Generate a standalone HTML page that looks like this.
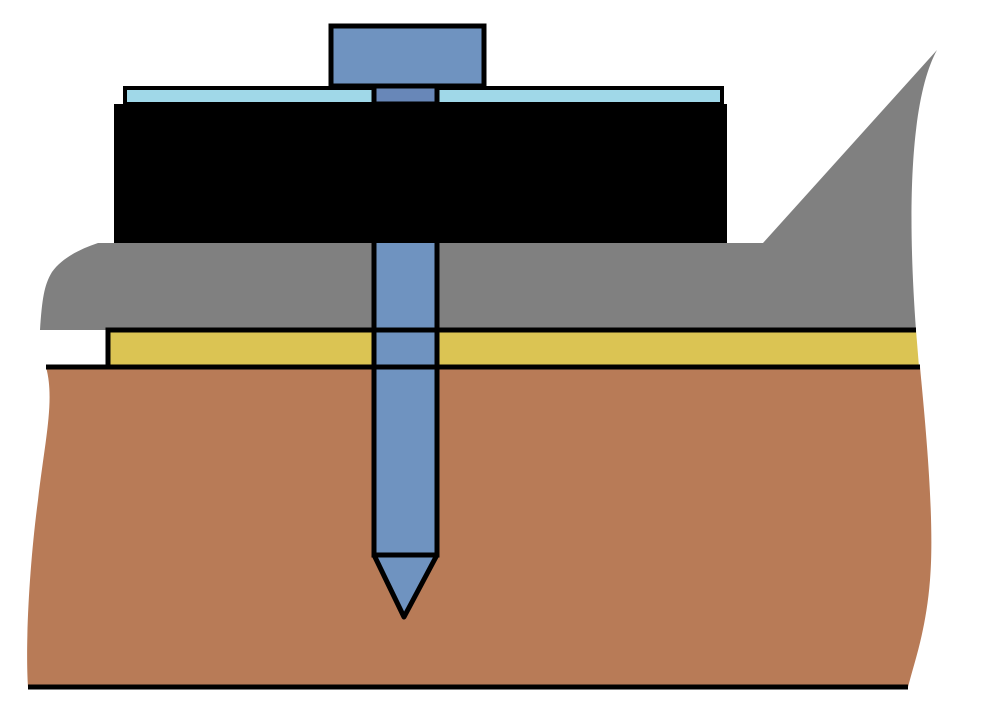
<!DOCTYPE html>
<html><head><meta charset="utf-8"><style>html,body{margin:0;padding:0;background:#fff;}svg{display:block}</style></head>
<body>
<svg width="981" height="710" viewBox="0 0 981 710" xmlns="http://www.w3.org/2000/svg">
<path d="M46,367 L920,367 C925,420 935,520 930,580 C926,630 915,660 908,687 L28,687 C25,640 30,560 38,500 C45,440 55,400 46,367 Z" fill="#b87b57"/>
<line x1="28" y1="687" x2="908" y2="687" stroke="#000" stroke-width="5"/>
<path d="M98,243 L763,243 L937,50 C915,90 905,180 916,330 L40,330 C42,300 44,285 52,272 C62,258 80,249 98,243 Z" fill="#808080"/>
<path d="M108,330 L916,330 L919,367 L108,367 Z" fill="#dbc453"/>
<path d="M108,367 L108,330 L916,330" fill="none" stroke="#000" stroke-width="5"/>
<line x1="46" y1="367" x2="920" y2="367" stroke="#000" stroke-width="5"/>
<rect x="374" y="86" width="63" height="469" fill="#6f93c0" stroke="#000" stroke-width="5"/>
<line x1="374" y1="330" x2="437" y2="330" stroke="#000" stroke-width="5"/>
<line x1="374" y1="367" x2="437" y2="367" stroke="#000" stroke-width="5"/>
<path d="M374,555 L437,555 L404,617 Z" fill="#6f93c0" stroke="#000" stroke-width="5" stroke-linejoin="round"/>
<rect x="125" y="88" width="597" height="16" fill="#a0d8e8" stroke="#000" stroke-width="4"/>
<rect x="374" y="85" width="63" height="19" fill="#6887b8" stroke="#000" stroke-width="5"/>
<rect x="331" y="26" width="153" height="60" fill="#6f93c0" stroke="#000" stroke-width="5"/>
<rect x="114" y="104" width="613" height="139" fill="#000"/>
</svg>
</body></html>
